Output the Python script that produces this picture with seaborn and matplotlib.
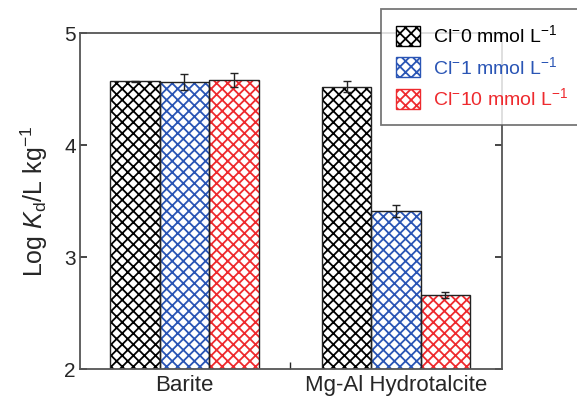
import seaborn as sns
import matplotlib.pyplot as plt
import matplotlib.colors as mcolors
from matplotlib.patches import Rectangle, Patch
import pandas as pd

sns.set_style('ticks')
plt.rcParams['font.family'] = ['Liberation Sans', 'DejaVu Sans']
plt.rcParams['mathtext.fontset'] = 'custom'
plt.rcParams['mathtext.rm'] = 'Liberation Sans'
plt.rcParams['mathtext.it'] = 'Liberation Sans:italic'
plt.rcParams['hatch.linewidth'] = 1.3

# data
minerals = ['Barite', 'Mg-Al Hydrotalcite']
cl_levels = ['0', '1', '10']
cl_labels = [r'Cl$^{-}$0 mmol L$^{-1}$', r'Cl$^{-}$1 mmol L$^{-1}$', r'Cl$^{-}$10 mmol L$^{-1}$']
log_kd = {'0': [4.57, 4.52], '1': [4.56, 3.41], '10': [4.58, 2.66]}
log_kd_err = {'0': [0.005, 0.05], '1': [0.07, 0.05], '10': [0.065, 0.03]}
colors = ['#000000', '#2a55b5', '#ee2a2e']

rows = []
for lvl in cl_levels:
    for m, v, e in zip(minerals, log_kd[lvl], log_kd_err[lvl]):
        rows.append({'mineral': m, 'cl': lvl, 'logkd': v, 'err': e})
df = pd.DataFrame(rows)

fig = plt.figure(figsize=(5.77, 4.01), dpi=100)
ax = fig.add_axes([0.1386, 0.0798, 0.7314, 0.8379])

sns.barplot(data=df, x='mineral', y='logkd', hue='cl', hue_order=cl_levels,
            palette=colors, width=0.7, errorbar=None, legend=False, ax=ax)

# white bars, coloured hatch, dark outline drawn on top
rgb = [mcolors.to_rgb(c) for c in colors]
for p in list(ax.patches):
    fc = mcolors.to_rgb(p.get_facecolor())
    i = min(range(3), key=lambda k: sum((a - b) ** 2 for a, b in zip(fc, rgb[k])))
    p.set_facecolor('white')
    p.set_edgecolor(colors[i])
    p.set_hatch('xxx')
    p.set_linewidth(0)
    ax.add_patch(Rectangle((p.get_x(), p.get_y()), p.get_width(), p.get_height(),
                           fill=False, edgecolor='#222222', lw=1.0, zorder=p.get_zorder() + 0.1))
    xc = p.get_x() + p.get_width() / 2
    row = df[(df['mineral'] == minerals[round(xc)]) & (df['cl'] == cl_levels[i])].iloc[0]
    ax.errorbar(xc, row['logkd'], yerr=row['err'], fmt='none', ecolor='#222222',
                elinewidth=1.0, capsize=3, capthick=1.0, zorder=5)

ax.set_ylim(2, 5)
ax.set_xlim(-0.494, 1.501)
ax.set_yticks([2, 3, 4, 5])
ax.set_xlabel('')
ax.set_ylabel(r'Log $K_\mathrm{d}$/L kg$^{-1}$', fontsize=18, labelpad=10)
ax.tick_params(axis='y', direction='in', length=5, width=1.2, labelsize=15,
               left=True, right=True, pad=3)
ax.tick_params(axis='x', which='major', length=0, labelsize=16, pad=4)
ax.set_xticks([0.5], minor=True)
ax.tick_params(axis='x', which='minor', direction='in', length=5, width=1.0)
for s in ax.spines.values():
    s.set_color('#555555')
    s.set_linewidth(1.3)

handles = [Patch(facecolor='white', edgecolor=c, hatch='xxx', lw=0) for c in colors]
leg = fig.legend(handles, cl_labels, loc='upper left', bbox_to_anchor=(0.660, 0.978),
                 fontsize=14, frameon=True, fancybox=False, borderaxespad=0,
                 handlelength=1.2, handleheight=1.2, handletextpad=0.7,
                 labelspacing=0.5, borderpad=0.8)
leg.get_frame().set_edgecolor('#555555')
leg.get_frame().set_linewidth(1.3)
for t, c in zip(leg.get_texts(), colors):
    t.set_color(c)
for h in leg.legend_handles:
    h.set_linewidth(1.0)

fig.savefig('out.png', dpi=100)
